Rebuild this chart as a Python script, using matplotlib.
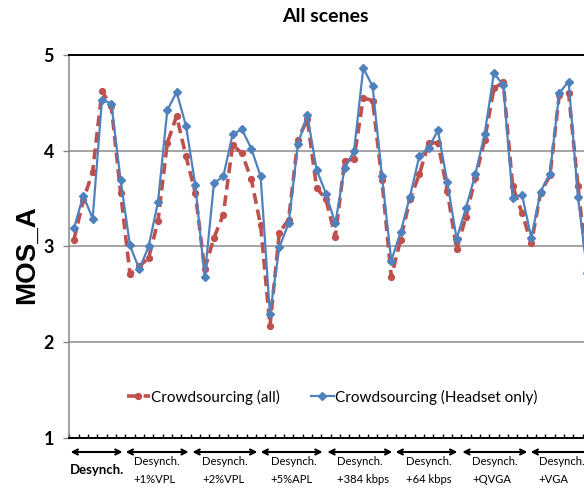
import matplotlib
matplotlib.use("Agg")
import matplotlib.pyplot as plt
import matplotlib.transforms as mtransforms

# ---- data ----
crowd_all = [3.07, 3.48, 3.78, 4.62, 4.46, 3.56, 2.71, 2.79, 2.88, 3.26,
             4.08, 4.36, 3.94, 3.56, 2.76, 3.09, 3.33, 4.06, 3.97, 3.70,
             3.22, 2.17, 3.14, 3.28, 4.11, 4.33, 3.61, 3.49, 3.10, 3.89,
             3.91, 4.55, 4.52, 3.69, 2.68, 3.07, 3.49, 3.75, 4.08, 4.08,
             3.58, 2.97, 3.31, 3.71, 4.11, 4.65, 4.71, 3.63, 3.35, 3.03,
             3.56, 3.74, 4.58, 4.60, 3.63, 2.75]
crowd_headset = [3.19, 3.53, 3.29, 4.53, 4.49, 3.69, 3.01, 2.76, 3.00, 3.46,
                 4.42, 4.61, 4.26, 3.64, 2.68, 3.66, 3.73, 4.17, 4.22, 4.02,
                 3.73, 2.29, 2.99, 3.24, 4.07, 4.37, 3.80, 3.55, 3.24, 3.82,
                 3.99, 4.86, 4.67, 3.73, 2.85, 3.15, 3.52, 3.94, 4.03, 4.21,
                 3.67, 3.08, 3.40, 3.75, 4.17, 4.81, 4.68, 3.50, 3.54, 3.09,
                 3.57, 3.76, 4.60, 4.72, 3.52, 2.72]
series_labels = ["Crowdsourcing (all)", "Crowdsourcing (Headset only)"]
group_labels = ["Desynch.", "Desynch.\n+1%VPL", "Desynch.\n+2%VPL", "Desynch.\n+5%APL",
                "Desynch.\n+384 kbps", "Desynch.\n+64 kbps", "Desynch.\n+QVGA", "Desynch.\n+VGA"]
group_spans = [(0.64, 6.21), (6.54, 13.29), (13.69, 20.65), (21.0, 27.64),
               (28.15, 35.11), (35.46, 42.08), (42.61, 49.58), (49.93, 58.0)]
group_text_x = [3.43, 7.39, 14.75, 22.07, 29.2, 36.54, 43.68, 50.79]
yticks = [1, 2, 3, 4, 5]

x = list(range(1, len(crowd_all) + 1))

fig = plt.figure(figsize=(5.84, 4.91), dpi=100)
W, H = 584, 491
left_px, top_px, bot_px = 69.3, 54.7, 438.0
unit_px = 9.333
n = len(x)
ax = fig.add_axes([left_px / W, 1 - bot_px / H, n * unit_px / W, (bot_px - top_px) / H])

red = "#C0504D"
blue = "#4F81BD"
ax.plot(x, crowd_all, color=red, lw=2.6, ls=(0, (3, 1.6)), marker="o", ms=4.2,
        label=series_labels[0], zorder=3)
ax.plot(x, crowd_headset, color=blue, lw=1.6, marker="D", ms=4.0,
        label=series_labels[1], zorder=4)

ax.set_xlim(0.5, n + 0.5)
ax.set_ylim(1, 5)
ax.set_yticks(yticks)
ax.set_yticklabels([str(v) for v in yticks], fontfamily="Lato", fontweight="bold", fontsize=13)
ax.tick_params(axis="y", length=4, color="#868686", width=1, pad=7)
for v in yticks[1:-1]:
    ax.axhline(v, color="#8c8c8c", lw=1.1, zorder=1)

ax.set_xticks([])
ax.set_xticks([i + 0.5 for i in range(0, n + 1)], minor=True)
ax.tick_params(axis="x", which="minor", direction="in", length=3, color="black", width=1)

ax.spines["right"].set_visible(False)
ax.spines["left"].set_color("#868686")
ax.spines["left"].set_linewidth(1.1)
ax.spines["top"].set_color("black")
ax.spines["top"].set_linewidth(1.4)
ax.spines["bottom"].set_color("black")
ax.spines["bottom"].set_linewidth(1.4)

leg = ax.legend(loc="center", bbox_to_anchor=(0.503, 0.107), ncol=2, frameon=False,
                prop={"family": "Lato", "size": 11}, handlelength=1.5,
                columnspacing=2.0, handletextpad=0.1)

# group arrows and labels
trans = mtransforms.blended_transform_factory(ax.transData, ax.transAxes)
arrow_y = (bot_px - 452) / (bot_px - top_px)
for (a, b) in group_spans:
    ax.annotate("", xy=(a, arrow_y), xytext=(b, arrow_y), xycoords=trans, textcoords=trans,
                arrowprops=dict(arrowstyle="<->", lw=1.5, color="black",
                                shrinkA=0, shrinkB=0, mutation_scale=9),
                annotation_clip=False)
for i, (lab, tx) in enumerate(zip(group_labels, group_text_x)):
    if i == 0:
        ax.text(tx, (bot_px - 470) / (bot_px - top_px), lab, transform=trans,
                ha="center", va="center", fontfamily="Lato", fontweight="bold",
                fontsize=9.5, clip_on=False)
    else:
        ax.text(tx, (bot_px - 456) / (bot_px - top_px), lab, transform=trans,
                ha="left", va="top", fontfamily="Lato", fontsize=8.1,
                linespacing=1.75, clip_on=False)

fig.text(325 / W, 1 - 17 / H, "All scenes", ha="center", va="center",
         fontfamily="Lato", fontweight="bold", fontsize=14)
fig.text(27 / W, 1 - 255 / H, "MOS_A", ha="center", va="center", rotation=90,
         fontfamily="Liberation Sans", fontweight="bold", fontsize=20)

fig.savefig("out.png", dpi=100)
